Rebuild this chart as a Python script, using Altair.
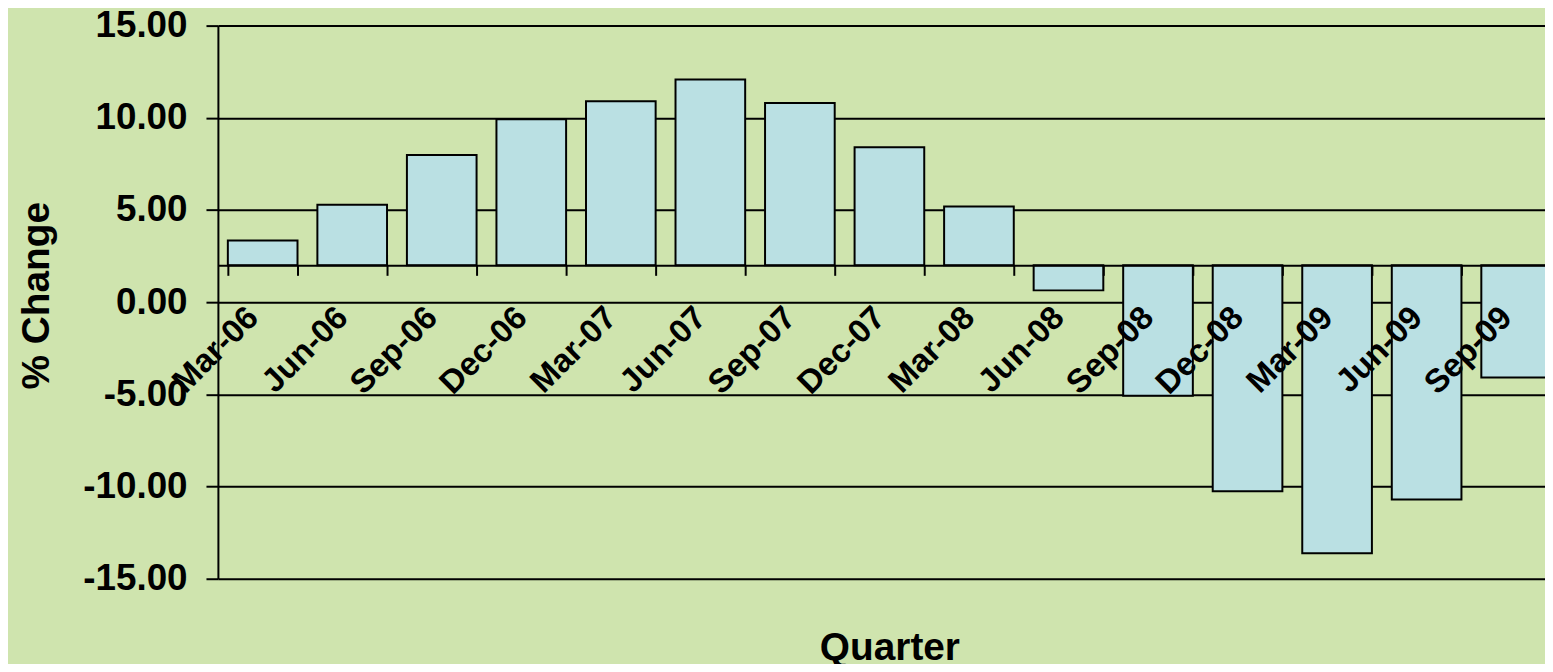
import altair as alt
import pandas as pd

quarters = ["Mar-06", "Jun-06", "Sep-06", "Dec-06", "Mar-07", "Jun-07", "Sep-07",
            "Dec-07", "Mar-08", "Jun-08", "Sep-08", "Dec-08", "Mar-09", "Jun-09", "Sep-09"]
pct_change = [3.34, 5.28, 7.98, 9.92, 10.90, 12.08, 10.80, 8.40, 5.19, 0.64,
              -5.07, -10.25, -13.62, -10.70, -4.08]
y_ticks = [-15, -10, -5, 0, 5, 10, 15]
axis_cross = 2.0  # value at which the category axis crosses

df = pd.DataFrame({"Quarter": quarters, "Change": pct_change})

FONT = "Liberation Sans"
BG = "#CFE4AE"

x_axis = alt.Axis(
    title="Quarter", titleFont=FONT, titleFontSize=39, titleFontWeight="bold", titleColor="black",
    titleX=675, titleY=396, titleBaseline="alphabetic", titleAlign="center",
    labelFont=FONT, labelFontSize=33, labelFontWeight="bold", labelColor="black",
    labelAngle=-45, labelAlign="right", labelBaseline="alphabetic",
    labelPadding=44, labelOffset=-3,
    tickBand="extent", tickSize=10, tickColor="black", tickWidth=2,
    domainColor="black", domainWidth=2,
    offset=-315, grid=False, zindex=1, labelOverlap=False,
)

y_axis = alt.Axis(
    title="% Change", titleFont=FONT, titleFontSize=39, titleFontWeight="bold", titleColor="black",
    titleX=-170, titleY=271, titleBaseline="alphabetic", titleAlign="center", titleAngle=-90,
    values=y_ticks,
    labelExpr="replace(format(datum.value, '.2f'), '\u2212', '-')",
    labelFont=FONT, labelFontSize=37, labelFontWeight="bold", labelColor="black",
    labelPadding=19, tickSize=12, tickColor="black", tickWidth=2,
    domainColor="black", domainWidth=2,
    grid=True, gridColor="black", gridWidth=2, gridOpacity=1, zindex=0,
)

chart = alt.Chart(df).mark_bar(
    fill="#BAE0E3", stroke="black", strokeWidth=2, clip=True
).encode(
    x=alt.X("Quarter:N", sort=quarters, axis=x_axis,
            scale=alt.Scale(paddingInner=0.222, paddingOuter=0.111)),
    y=alt.Y("Change:Q", axis=y_axis, scale=alt.Scale(domain=[-15, 15], nice=False, zero=False)),
    y2=alt.datum(axis_cross),
).properties(
    width=1350, height=556,
    padding={"left": 211, "top": 16, "right": -16, "bottom": 84},
    autosize=alt.AutoSizeParams(type="none"),
    background=BG,
).configure_view(strokeOpacity=0)

chart.save("out.html", embed_options={"renderer": "svg", "actions": False})
